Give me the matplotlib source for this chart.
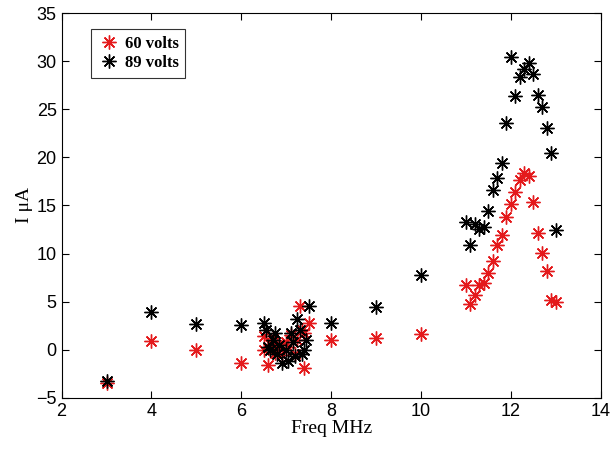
import matplotlib
matplotlib.use("Agg")
import matplotlib.pyplot as plt

# 60 volts series (red)
f60 = [3, 4, 5, 6,
       6.5, 6.5, 6.6, 6.65, 6.7, 6.75, 6.8, 6.85, 6.9, 7.0, 7.05, 7.1, 7.2, 7.25, 7.3, 7.35, 7.4, 7.4, 7.5,
       8, 9, 10,
       11.0, 11.1, 11.2, 11.3, 11.4, 11.5, 11.6, 11.7, 11.8, 11.9, 12.0,
       12.1, 12.2, 12.3, 12.4, 12.5, 12.6, 12.7, 12.8, 12.9, 13.0]
i60 = [-3.5, 0.9, 0.0, -1.4,
       1.4, 0.0, -1.6, 0.6, 1.2, -0.3, 0.5, 0.2, -0.5, 0.8, 0.3, 1.5, -0.4, 1.0, 4.5, 2.0, -1.9, 1.7, 2.8,
       1.0, 1.2, 1.6,
       6.7, 4.7, 5.7, 6.7, 6.9, 8.0, 9.2, 10.9, 11.9, 13.8, 15.2,
       16.4, 17.6, 18.4, 18.1, 15.4, 12.1, 10.1, 8.2, 5.2, 5.0]

# 89 volts series (black)
f89 = [3, 4, 5, 6,
       6.5, 6.55, 6.6, 6.65, 6.7, 6.75, 6.8, 6.85, 6.9, 7.0, 7.05, 7.1, 7.15, 7.2, 7.25, 7.3, 7.35, 7.4, 7.45, 7.5,
       8, 9, 10,
       11.0, 11.1, 11.2, 11.3, 11.4, 11.5, 11.6, 11.7, 11.8, 11.9, 12.0,
       12.1, 12.2, 12.3, 12.4, 12.5, 12.6, 12.7, 12.8, 12.9, 13.0]
i89 = [-3.3, 3.9, 2.7, 2.6,
       2.8, 2.1, 0.3, 0.0, 1.0, 1.7, -0.4, 0.5, -1.4, 0.0, -1.2, 1.7, 0.8, -0.7, 3.2, 2.0, -0.4, 0.0, 1.0, 4.5,
       2.8, 4.4, 7.8,
       13.3, 10.9, 13.1, 12.6, 12.8, 14.4, 16.6, 17.9, 19.4, 23.6, 30.4,
       26.4, 28.4, 29.2, 29.8, 28.7, 26.5, 25.2, 23.0, 20.4, 12.4]

fig = plt.figure(figsize=(6.16, 4.5), dpi=100)
ax = fig.add_axes([0.1, 0.116, 0.875, 0.855])

star = (8, 2, 0)
ax.plot(f60, i60, linestyle="none", marker=star, color="#e41a1c", markersize=10, markeredgewidth=1.0, label="60 volts")
ax.plot(f89, i89, linestyle="none", marker=star, color="black", markersize=10, markeredgewidth=1.0, label="89 volts")

ax.set_xlim(2, 14)
ax.set_ylim(-5, 35)
ax.set_xticks(range(2, 15, 2))
ax.set_yticks(range(-5, 36, 5))
ax.tick_params(direction="in", top=True, right=True, length=5, labelsize=13)
for lab in ax.get_xticklabels() + ax.get_yticklabels():
    lab.set_family("Liberation Sans")

ax.set_xlabel("Freq MHz", family="Liberation Serif", fontsize=14, labelpad=0)
ax.set_ylabel("I μA", family="Liberation Serif", fontsize=14, labelpad=2)

leg = ax.legend(loc="upper left", bbox_to_anchor=(0.04, 0.98), fancybox=False, edgecolor="black",
                prop={"family": "Liberation Serif", "weight": "bold", "size": 12},
                handletextpad=0.3, borderpad=0.4, labelspacing=0.2, handlelength=1.3)
leg.get_frame().set_linewidth(0.8)

fig.savefig("out.png", dpi=100)
